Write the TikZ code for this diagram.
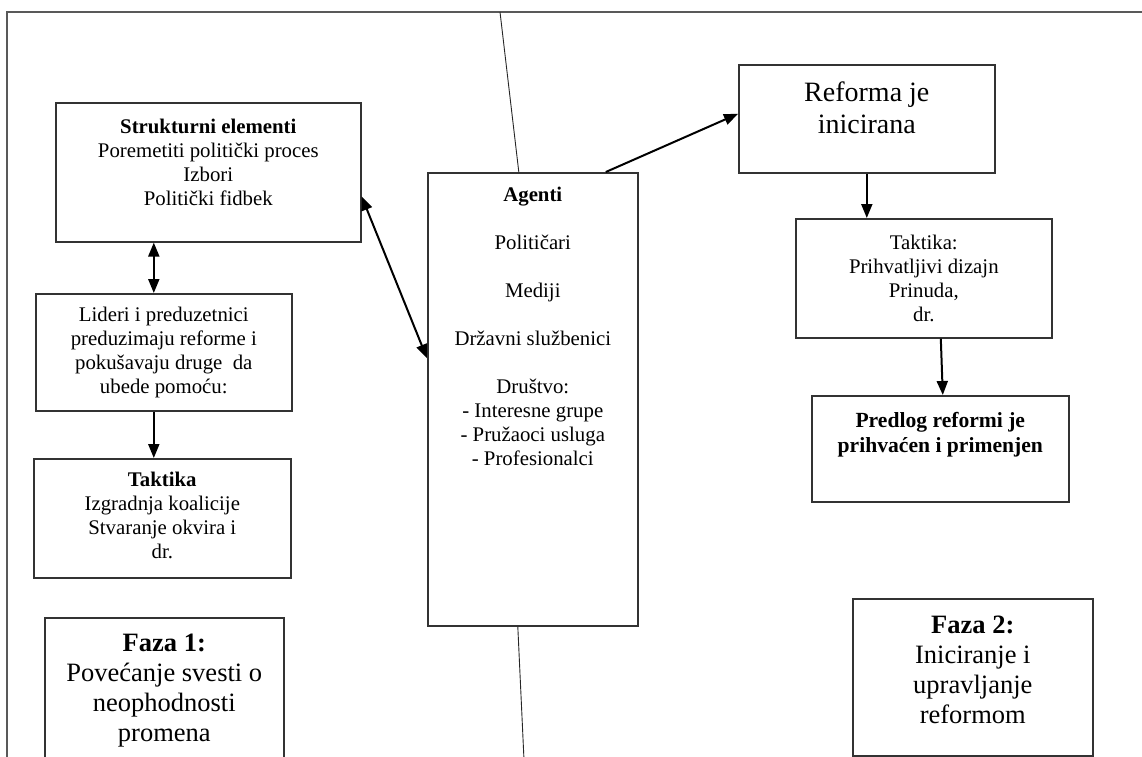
\documentclass[tikz,border=0pt]{standalone}
\usepackage{fontspec}
\setmainfont{Liberation Serif}
\usetikzlibrary{arrows.meta}
\newcommand{\kutija}[4]{\parbox[c][#2][t]{#1}{\centering\rule{0pt}{#3}#4}}
\begin{document}
\begin{tikzpicture}
			[x=1pt,y=-1pt,
			okvir/.style={draw=black!80,line width=1.6pt,inner sep=0pt,anchor=north west,font=\fontsize{20.8}{24}\selectfont},
			veliki/.style={font=\fontsize{28}{32}\selectfont},
			faza/.style={font=\fontsize{26.5}{30}\selectfont},
			strelica/.style={line width=2pt,-{Triangle[length=14pt,width=11pt]}},
			dvostrelica/.style={line width=2pt,{Triangle[length=14pt,width=11pt]}-{Triangle[length=14pt,width=11pt]}},
			ram/.style={draw=black!65,line width=2pt},
			tanka/.style={draw=black!85,line width=0.9pt}]
			\clip (0,0) rectangle (1142,756);
			\fill[white] (0,0) rectangle (1142,756);
			% okvir oko cele slike
			\draw[ram] (7,770) |- (1150,12);
			% faza 1
			\node[okvir,name=struk] at (55,102) {\kutija{305pt}{139pt}{31pt}{\textbf{Strukturni elementi}\\Poremetiti politički proces\\Izbori\\Politički fidbek}};
			\node[okvir,name=lider] at (35,293) {\kutija{256pt}{117pt}{28pt}{Lideri i preduzetnici\\preduzimaju reforme i\\pokušavaju druge\ \ da\\ubede pomoću:}};
			\node[okvir,name=takt1] at (33,458) {\kutija{257pt}{119pt}{28pt}{\textbf{Taktika}\\Izgradnja koalicije\\Stvaranje okvira i\\dr.}};
			\node[okvir,faza,name=faza1] at (44,617) {\kutija{239pt}{160pt}{34pt}{\textbf{Faza 1:}\\Povećanje svesti o\\neophodnosti\\promena}};
			% agenti
			\node[okvir,name=agenti] at (427,172) {\kutija{210pt}{453pt}{29pt}{\textbf{Agenti}\\[24pt]Političari\\[24pt]Mediji\\[24pt]Državni službenici\\[24pt]Društvo:\\- Interesne grupe\\- Pružaoci usluga\\- Profesionalci}};
			% faza 2
			\node[okvir,veliki,name=reforma] at (738,64) {\kutija{256pt}{108pt}{37pt}{Reforma je\\inicirana}};
			\node[okvir,name=takt2] at (795,218) {\kutija{256pt}{119pt}{31pt}{Taktika:\\Prihvatljivi dizajn\\Prinuda,\\dr.}};
			\node[okvir,font=\fontsize{21.6}{25}\selectfont\bfseries,name=predlog] at (811,395) {\kutija{257pt}{106pt}{32pt}{Predlog reformi je\\prihvaćen i primenjen}};
			\node[okvir,faza,name=faza2] at (852,598) {\kutija{240pt}{157pt}{35pt}{\textbf{Faza 2:}\\Iniciranje i\\upravljanje\\reformom}};
			% granica izmedju faza
			\coordinate (gore) at (500,12);
			\coordinate (dole) at (524,760);
			\draw[tanka] (gore) -- ([xshift=-14pt]agenti.north);
			\draw[tanka] ([xshift=-15pt]agenti.south) -- (dole);
			% strelice
			\draw[dvostrelica] ([xshift=-10pt]lider.north) -- ([xshift=-10pt]lider.north |- struk.south);
			\draw[strelica] ([xshift=-10pt]lider.south) -- ([xshift=-10pt]lider.south |- takt1.north);
			\draw[dvostrelica] ([yshift=-24pt]struk.east) -- ([yshift=41pt]agenti.west);
			\draw[strelica] ([xshift=73pt]agenti.north) -- ([yshift=5pt]reforma.west);
			\draw[strelica] (reforma.south) -- (reforma.south |- takt2.north);
			\draw[strelica] ([xshift=17pt]takt2.south) -- ([xshift=2.5pt]predlog.north);
		\end{tikzpicture}
\end{document}
